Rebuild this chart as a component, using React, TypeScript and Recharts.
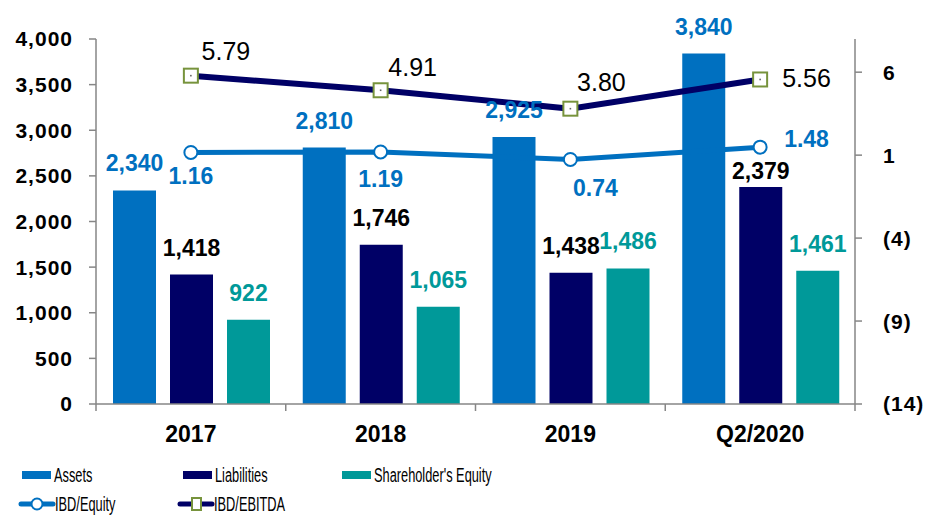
import React from "react";
import {
  ComposedChart,
  Bar,
  Line,
  XAxis,
  YAxis,
  Legend,
  LabelList,
} from "recharts";

document.body.style.margin = "0";

const categories = ["2017", "2018", "2019", "Q2/2020"];
const assets = [2340, 2810, 2925, 3840];
const liabilities = [1418, 1746, 1438, 2379];
const equity = [922, 1065, 1486, 1461];
const ibdEquity = [1.16, 1.19, 0.74, 1.48];
const ibdEbitda = [5.79, 4.91, 3.8, 5.56];
const leftTicks = [0, 500, 1000, 1500, 2000, 2500, 3000, 3500, 4000];
const rightTicks = [-14, -9, -4, 1, 6];

const data = categories.map((name, i) => ({
  name,
  assets: assets[i],
  liabilities: liabilities[i],
  equity: equity[i],
  ibdEquity: ibdEquity[i],
  ibdEbitda: ibdEbitda[i],
}));

const FONT = "'Liberation Sans', Arial, sans-serif";
const BLUE = "#0070C0";
const NAVY = "#000066";
const TEAL = "#009999";
const GREEN = "#77933C";
const GRID = "#868686";

const W = 925;
const H = 515;
const PLOT_LEFT = 96;
const PLOT_RIGHT = 855;
const BAND = (PLOT_RIGHT - PLOT_LEFT) / categories.length;

// label placement tweaks (Excel labels were nudged by hand)
const BAR_LIFT = 19;
const liabNudge = [0, 0, 0, 11];
const equityLineLabels = [
  { dx: 0, dy: 32, anchor: "middle" },
  { dx: 0, dy: 35, anchor: "middle" },
  { dx: 25, dy: 37, anchor: "middle" },
  { dx: 24, dy: 0, anchor: "start" },
];
const ebitdaLineLabels = [
  { dx: 35, dy: -16, anchor: "middle" },
  { dx: 32, dy: -14, anchor: "middle" },
  { dx: 31, dy: -18, anchor: "middle" },
  { dx: 22, dy: 8, anchor: "start" },
];

const fmtThousands = (v: number) => v.toLocaleString("en-US");
const fmtParen = (v: number) => (v < 0 ? `(${-v})` : `${v}`);

const barLabel = (color: string, nudge?: number[]) => (p: any) => {
  const { x, y, width, value, index } = p;
  const extra = nudge ? nudge[index] || 0 : 0;
  return (
    <text
      x={Number(x) + Number(width) / 2}
      y={Number(y) - BAR_LIFT + extra}
      textAnchor="middle"
      fill={color}
      fontFamily={FONT}
      fontWeight="bold"
      fontSize={23}
    >
      {fmtThousands(Number(value))}
    </text>
  );
};

const lineLabel =
  (color: string, bold: boolean, size: number, place: any[]) => (p: any) => {
    const { x, y, value, index } = p;
    const o = place[index];
    return (
      <text
        x={Number(x) + o.dx}
        y={Number(y) + o.dy}
        textAnchor={o.anchor}
        fill={color}
        fontFamily={FONT}
        fontWeight={bold ? "bold" : "normal"}
        fontSize={size}
      >
        {Number(value).toFixed(2)}
      </text>
    );
  };

const SquareDot = (p: any) => {
  const { cx, cy, index } = p;
  return (
    <g key={`sq-${index}`}>
      <rect x={cx - 7} y={cy - 7} width={14} height={14} fill="#fff" stroke={GREEN} strokeWidth={2} />
      <rect x={cx - 0.8} y={cy - 0.8} width={1.6} height={1.6} fill="#666" />
    </g>
  );
};

const CategoryTick = (p: any) => {
  const { x, y, payload, index } = p;
  return (
    <g>
      <line x1={x - BAND / 2} x2={x - BAND / 2} y1={y} y2={y + 7} stroke={GRID} strokeWidth={1.5} />
      {index === categories.length - 1 && (
        <line x1={x + BAND / 2} x2={x + BAND / 2} y1={y} y2={y + 7} stroke={GRID} strokeWidth={1.5} />
      )}
      <text x={x} y={y + 38} textAnchor="middle" fill="#000" fontFamily={FONT} fontWeight="bold" fontSize={23}>
        {payload.value}
      </text>
    </g>
  );
};

const legendItems = [
  { label: "Assets", kind: "bar", color: BLUE, x: 22, row: 0 },
  { label: "Liabilities", kind: "bar", color: NAVY, x: 183, row: 0 },
  { label: "Shareholder's Equity", kind: "bar", color: TEAL, x: 342, row: 0 },
  { label: "IBD/Equity", kind: "circle", color: BLUE, x: 21, row: 1 },
  { label: "IBD/EBITDA", kind: "square", color: NAVY, x: 180, row: 1 },
];

const LegendBox = () => (
  <svg width={W} height={60} style={{ display: "block" }}>
    {legendItems.map((it) => {
      const cy = it.row === 0 ? 20 : 49;
      const textX = it.kind === "bar" ? it.x + 32 : it.x + 34;
      return (
        <g key={it.label}>
          {it.kind === "bar" && <rect x={it.x} y={cy - 4} width={29} height={8} fill={it.color} />}
          {it.kind !== "bar" && (
            <line x1={it.x} x2={it.x + 32} y1={cy} y2={cy} stroke={it.color} strokeWidth={5} strokeLinecap="round" />
          )}
          {it.kind === "circle" && (
            <circle cx={it.x + 16} cy={cy} r={5.5} fill="#fff" stroke={it.color} strokeWidth={2} />
          )}
          {it.kind === "square" && (
            <rect x={it.x + 12} y={cy - 6} width={9} height={12} fill="#fff" stroke={GREEN} strokeWidth={2} />
          )}
          <text
            transform={`translate(${textX},${cy + 7}) scale(0.64,1)`}
            fill="#000"
            fontFamily={FONT}
            fontSize={20}
          >
            {it.label}
          </text>
        </g>
      );
    })}
  </svg>
);

export default function App() {
  return (
    <div style={{ width: W, height: H, background: "#fff" }}>
      <ComposedChart
        width={W}
        height={H}
        data={data}
        margin={{ top: 39, right: 0, bottom: 81, left: 0 }}
        barCategoryGap={17}
        barGap={14}
      >
        <XAxis
          dataKey="name"
          height={30}
          stroke={GRID}
          strokeWidth={1.5}
          tickLine={false}
          tickSize={0}
          tickMargin={0}
          interval={0}
          tick={<CategoryTick />}
        />
        <YAxis
          yAxisId="left"
          width={96}
          domain={[0, 4000]}
          ticks={leftTicks}
          interval={0}
          tickFormatter={fmtThousands}
          stroke={GRID}
          strokeWidth={1.5}
          tickSize={7}
          tickMargin={16}
          tick={{ fill: "#000", fontFamily: FONT, fontWeight: "bold", fontSize: 21, letterSpacing: 1 }}
        />
        <YAxis
          yAxisId="right"
          orientation="right"
          width={70}
          domain={[-14, 8]}
          ticks={rightTicks}
          interval={0}
          tickFormatter={fmtParen}
          stroke={GRID}
          strokeWidth={1.5}
          tickSize={7}
          tickMargin={21}
          tick={{ fill: "#000", fontFamily: FONT, fontWeight: "bold", fontSize: 21, letterSpacing: 1 }}
        />
        <Legend
          layout="horizontal"
          verticalAlign="middle"
          wrapperStyle={{ top: 455, left: 0, width: W, height: 60 }}
          content={() => <LegendBox />}
        />
        <Bar yAxisId="left" dataKey="assets" name="Assets" fill={BLUE} isAnimationActive={false}>
          <LabelList dataKey="assets" content={barLabel(BLUE)} />
        </Bar>
        <Bar yAxisId="left" dataKey="liabilities" name="Liabilities" fill={NAVY} isAnimationActive={false}>
          <LabelList dataKey="liabilities" content={barLabel("#000", liabNudge)} />
        </Bar>
        <Bar yAxisId="left" dataKey="equity" name="Shareholder's Equity" fill={TEAL} isAnimationActive={false}>
          <LabelList dataKey="equity" content={barLabel(TEAL)} />
        </Bar>
        <Line
          yAxisId="right"
          type="linear"
          dataKey="ibdEquity"
          name="IBD/Equity"
          stroke={BLUE}
          strokeWidth={5}
          dot={{ r: 6.5, fill: "#fff", stroke: BLUE, strokeWidth: 2 }}
          activeDot={false}
          isAnimationActive={false}
        >
          <LabelList dataKey="ibdEquity" content={lineLabel(BLUE, true, 23, equityLineLabels)} />
        </Line>
        <Line
          yAxisId="right"
          type="linear"
          dataKey="ibdEbitda"
          name="IBD/EBITDA"
          stroke={NAVY}
          strokeWidth={6}
          dot={(p: any) => <SquareDot key={`sq-${p.index}`} {...p} />}
          activeDot={false}
          isAnimationActive={false}
        >
          <LabelList dataKey="ibdEbitda" content={lineLabel("#000", false, 25, ebitdaLineLabels)} />
        </Line>
      </ComposedChart>
    </div>
  );
}
